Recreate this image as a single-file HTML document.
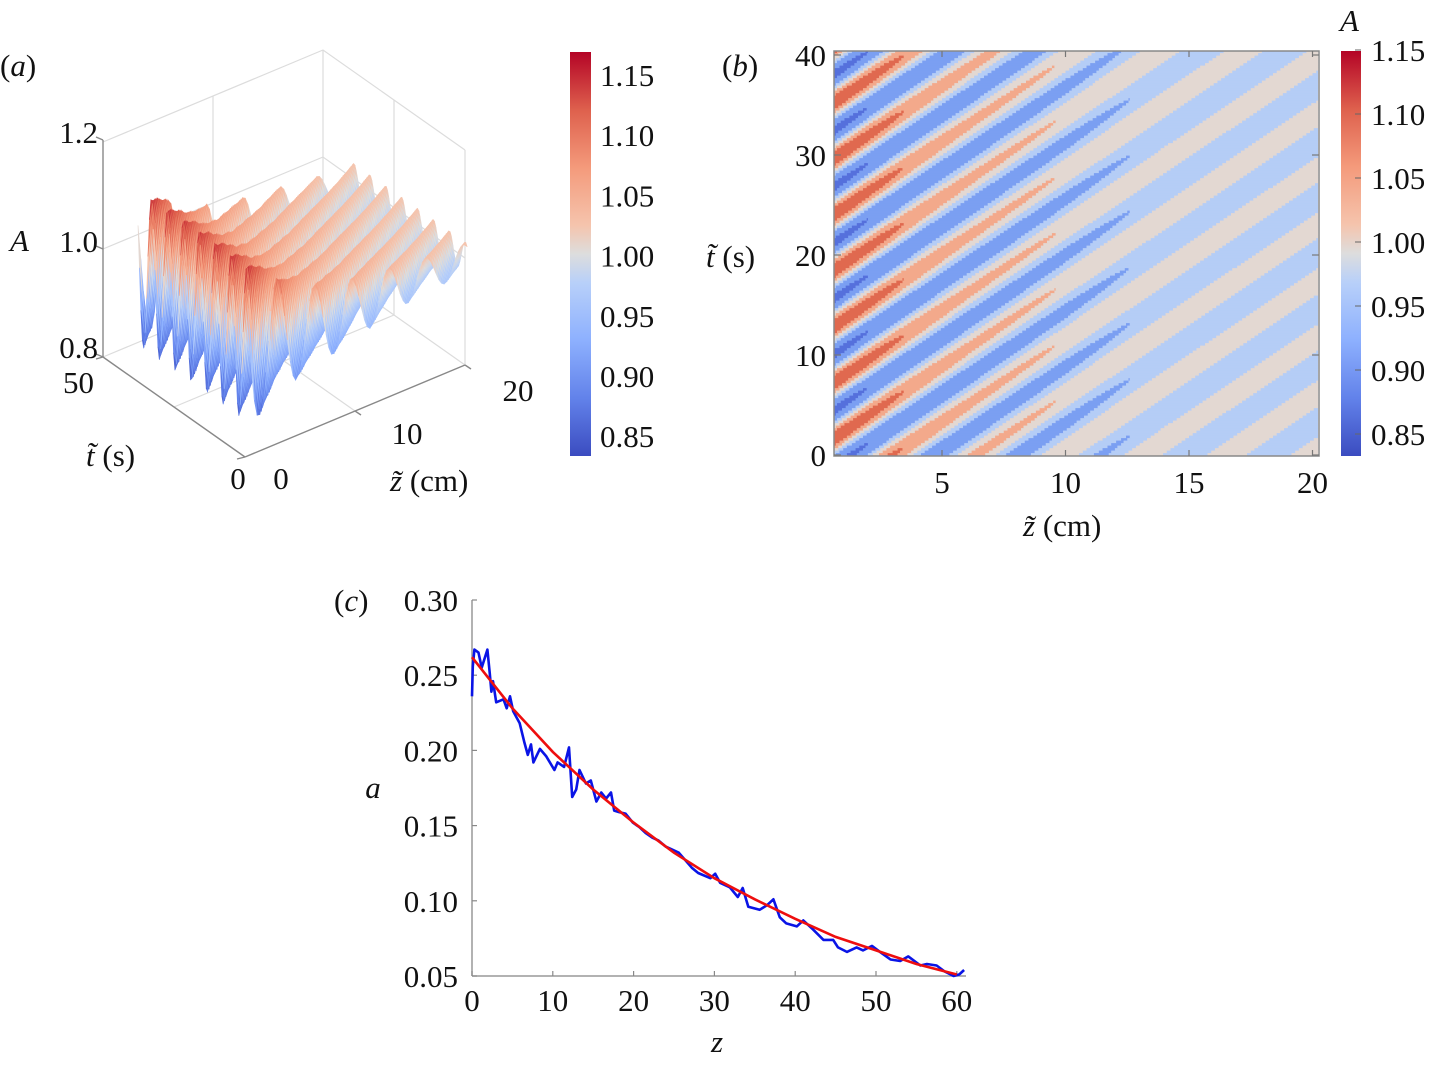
<!DOCTYPE html>
<html><head><meta charset="utf-8">
<style>
html,body{margin:0;padding:0;background:#fff;}
body{width:1429px;height:1065px;position:relative;overflow:hidden;font-family:"Liberation Serif",serif;}
svg{position:absolute;left:0;top:0;}
text{font-family:"Liberation Serif",serif;font-size:31px;fill:#111;}
.it{font-style:italic;}
</style></head>
<body>
<svg id="fig" width="1429" height="1065" viewBox="0 0 1429 1065" xmlns="http://www.w3.org/2000/svg">
<defs>
<linearGradient id="cbgrad" x1="0" y1="1" x2="0" y2="0">
<stop offset="0" stop-color="#3b4cc0"/><stop offset="0.143" stop-color="#6282ea"/><stop offset="0.286" stop-color="#8db0fe"/><stop offset="0.429" stop-color="#b8d0f9"/><stop offset="0.5" stop-color="#dddddd"/><stop offset="0.571" stop-color="#f5c4ad"/><stop offset="0.714" stop-color="#f49a7b"/><stop offset="0.857" stop-color="#de604d"/><stop offset="1" stop-color="#b40426"/>
</linearGradient>
<clipPath id="clipB"><rect x="834" y="51" width="485" height="405"/></clipPath>
</defs>

<g id="panelA">
<text x="0" y="76">(<tspan class="it">a</tspan>)</text>
<g id="boxA" stroke="#dcdcdc" stroke-width="1.2" fill="none">
<polyline points="103,142 323,50 465,150"/>
<polyline points="103,357 323,265 465,365"/>
<line x1="323" y1="50" x2="323" y2="265"/>
<line x1="465" y1="150" x2="465" y2="365"/>
<polyline points="103,249 323,157 465,258"/>
<line x1="213" y1="96" x2="213" y2="311"/>
<line x1="394" y1="100" x2="394" y2="315"/>
<line x1="355" y1="411" x2="213" y2="311"/>
<line x1="174" y1="407" x2="394" y2="315"/>
</g>
<g id="surfA"></g>
<g stroke="#888" stroke-width="1.4" fill="none">
<line x1="103" y1="140" x2="103" y2="357"/>
<line x1="103" y1="357" x2="245" y2="457"/>
<line x1="245" y1="457" x2="465" y2="365"/>
<line x1="103" y1="140" x2="96" y2="137"/><line x1="103" y1="249" x2="96" y2="246"/><line x1="103" y1="357" x2="96" y2="354"/>
<line x1="245" y1="457" x2="237" y2="459"/><line x1="103" y1="357" x2="96" y2="359"/>
<line x1="355" y1="411" x2="361" y2="415"/><line x1="465" y1="365" x2="471" y2="369"/>
</g>
<text x="98" y="143" text-anchor="end">1.2</text>
<text x="98" y="252" text-anchor="end">1.0</text>
<text x="98" y="358" text-anchor="end">0.8</text>
<text x="10" y="251" class="it">A</text>
<text x="94" y="393" text-anchor="end">50</text>
<text x="238" y="489" text-anchor="middle">0</text>
<text x="86" y="466"><tspan class="it">t̃</tspan> (s)</text>
<text x="281" y="489" text-anchor="middle">0</text>
<text x="407" y="444" text-anchor="middle">10</text>
<text x="518" y="401" text-anchor="middle">20</text>
<text x="390" y="491"><tspan class="it">z̃</tspan> (cm)</text>
</g>

<g>
<rect x="570" y="52" width="21" height="404" fill="url(#cbgrad)"/>
<g id="cbATicks"></g>
</g>

<g id="panelB">
<text x="722" y="76">(<tspan class="it">b</tspan>)</text>
<g id="heatB" clip-path="url(#clipB)"></g>
<rect x="834" y="51" width="485" height="405" fill="none" stroke="#888" stroke-width="1.5"/>
<g id="axesB"></g>
<text x="706" y="267"><tspan class="it">t̃</tspan> (s)</text>
<text x="1023" y="536"><tspan class="it">z̃</tspan> (cm)</text>
</g>

<g>
<rect x="1341" y="51" width="20" height="405" fill="url(#cbgrad)"/>
<text x="1340" y="31" class="it">A</text>
<g id="cbBTicks"></g>
</g>

<g id="panelC">
<text x="334" y="611">(<tspan class="it">c</tspan>)</text>
<g id="axesC"></g>
<path id="blueLine" fill="none" stroke="#0a14e6" stroke-width="2.6" stroke-linejoin="round"/>
<path id="redLine" fill="none" stroke="#ee0e0e" stroke-width="2.6"/>
<text x="373" y="798" class="it" text-anchor="middle">a</text>
<text x="717" y="1052" class="it" text-anchor="middle">z</text>
</g>
</svg>

<script>
const fieldZ = [0.6, 2, 4, 6, 8, 10, 12, 14, 16, 18, 20.2];
const fieldMean = [1.0, 1.0, 0.995, 0.99, 0.99, 0.99, 0.995, 0.997, 0.997, 0.997, 0.997];
const fieldAmp = [0.145, 0.125, 0.095, 0.078, 0.068, 0.058, 0.048, 0.04, 0.034, 0.03, 0.028];
const wavePeriod = [5.6];
const waveSlope = [1.66];
const wavePhase0 = [1.7];
const colorLevels = [0.875, 0.95, 1.00, 1.05, 1.10, 1.15];
const levelColors = ["#5570dc", "#7b9ff2", "#b5cdf6", "#e3d8d2", "#f3a98b", "#e0694f", "#b40426"];
const cbTicksA = [0.85, 0.90, 0.95, 1.00, 1.05, 1.10, 1.15];
const cbTicksB = [0.85, 0.90, 0.95, 1.00, 1.05, 1.10, 1.15];
const bTicksZ = [5, 10, 15, 20];
const bTicksT = [0, 10, 20, 30, 40];

const cZ = [0,0.1,0.3,0.8,1.2,1.9,2.2,2.4,2.6,3.0,3.9,4.3,4.7,5.1,5.9,6.5,6.9,7.3,7.6,8.4,9.2,10.2,10.6,11.4,12.0,12.4,12.9,13.3,14.1,14.7,15.4,16.0,16.6,17.2,17.6,18.2,19.0,19.9,20.7,21.5,22.3,23.1,24.0,24.8,25.6,26.4,27.2,28.0,29.5,30.1,30.7,31.9,32.9,33.5,34.2,35.6,36.5,37.3,38.1,38.9,40.2,41.0,42.2,43.5,44.7,45.3,46.4,47.6,48.4,49.5,50.5,51.8,53.0,54.0,55.5,56.3,57.5,58.5,59.6,60.3,60.9];
const cA = [0.236,0.256,0.267,0.265,0.255,0.267,0.251,0.239,0.246,0.232,0.234,0.228,0.236,0.226,0.218,0.205,0.197,0.204,0.192,0.201,0.196,0.187,0.192,0.189,0.202,0.169,0.174,0.187,0.178,0.180,0.166,0.172,0.168,0.172,0.160,0.159,0.158,0.152,0.149,0.145,0.142,0.140,0.136,0.134,0.132,0.127,0.122,0.1185,0.115,0.118,0.112,0.109,0.1025,0.1085,0.096,0.094,0.097,0.101,0.089,0.085,0.083,0.087,0.081,0.074,0.074,0.069,0.066,0.069,0.067,0.070,0.066,0.061,0.060,0.063,0.057,0.058,0.057,0.053,0.050,0.051,0.054];
const fitZ = [0,5,10,15,20,25,30,35,40,45,50,55,60];
const fitA = [0.262,0.228,0.199,0.174,0.152,0.132,0.115,0.101,0.088,0.076,0.067,0.058,0.051];
const cTicksX = [0,10,20,30,40,50,60];
const cTicksY = [0.05,0.10,0.15,0.20,0.25,0.30];

const NS = "http://www.w3.org/2000/svg";
function mk(tag, attrs, parent){const e=document.createElementNS(NS,tag);for(const k in attrs)e.setAttribute(k,attrs[k]);parent.appendChild(e);return e;}
function interp(xs, ys, x){if(x<=xs[0])return ys[0];for(let i=1;i<xs.length;i++){if(x<=xs[i]){const f=(x-xs[i-1])/(xs[i]-xs[i-1]);return ys[i-1]+f*(ys[i]-ys[i-1]);}}return ys[ys.length-1];}
function field(z,t){const m=interp(fieldZ,fieldMean,z),a=interp(fieldZ,fieldAmp,z);const ph=(t-wavePhase0[0]-waveSlope[0]*(z-fieldZ[0]))/wavePeriod[0];return m+a*Math.cos(2*Math.PI*ph);}
const cw=[[0,59,76,192],[0.143,98,130,234],[0.286,141,176,254],[0.429,184,208,249],[0.5,221,221,221],[0.571,245,196,173],[0.714,244,154,123],[0.857,222,96,77],[1,180,4,38]];
function coolwarm(u){u=Math.max(0,Math.min(1,u));for(let i=1;i<cw.length;i++){if(u<=cw[i][0]){const f=(u-cw[i-1][0])/(cw[i][0]-cw[i-1][0]);const c=[1,2,3].map(k=>Math.round(cw[i-1][k]+f*(cw[i][k]-cw[i-1][k])));return `rgb(${c[0]},${c[1]},${c[2]})`;}}return "rgb(180,4,38)";}

const surf=document.getElementById('surfA');
function proj(z,t,A){return [245+11*z-2.84*t, 457-4.6*z-2*t-(A-0.8)*537];}
const quads=[];
const dz=0.25, dt=0.5, z0=fieldZ[0], z1=fieldZ[fieldZ.length-1], tMax=40;
for(let t=0;t<tMax-1e-9;t+=dt){for(let z=z0;z<z1-1e-9;z+=dz){
  const za=z, zb=Math.min(z+dz,z1), ta=t, tb=t+dt;
  const pts=[[za,ta],[zb,ta],[zb,tb],[za,tb]].map(p=>proj(p[0],p[1],field(p[0],p[1])));
  const Am=field((za+zb)/2,(ta+tb)/2);
  quads.push({d:457-4.6*(za+zb)/2-2*(ta+tb)/2,pts,Am});
}}
quads.sort((a,b)=>a.d-b.d);
for(const q of quads){
  const col=coolwarm((q.Am-0.833)/(1.169-0.833));
  const p=mk('polygon',{points:q.pts.map(p=>p[0].toFixed(1)+','+p[1].toFixed(1)).join(' '),fill:col,stroke:col,'stroke-width':'0.6'},surf);
  
  
}

const cbA=document.getElementById('cbATicks');
cbTicksA.forEach(v=>{const y=75+(1.15-v)/0.05*60.2;
  const tx=mk('text',{x:600,y:(y+11).toFixed(1)},cbA);tx.textContent=v.toFixed(2);
  
  
});

const heat=document.getElementById('heatB');
const bx=z=>942+(z-5)*24.7, by=t=>455-t*10;
function levelIdx(A){let i=0;while(i<colorLevels.length&&A>=colorLevels[i])i++;return i;}
const hz=0.05, ht=0.25;
for(let t=0;t<40.5;t+=ht){
  let runStart=z0, runIdx=levelIdx(field(z0,t+ht/2));
  for(let z=z0+hz;z<=z1+hz;z+=hz){
    const idx=z<=z1?levelIdx(field(z,t+ht/2)):-1;
    if(idx!==runIdx){
      const r=mk('rect',{x:bx(runStart).toFixed(2),y:(by(t+ht)).toFixed(2),width:(bx(z)-bx(runStart)+0.6).toFixed(2),height:(ht*10+0.6).toFixed(2),fill:levelColors[runIdx]},heat);
      
      
      runStart=z;runIdx=idx;
    }
  }
}
const axB=document.getElementById('axesB');
bTicksZ.forEach(v=>{const x=bx(v);
  mk('line',{x1:x,y1:456,x2:x,y2:450,stroke:'#777','stroke-width':1.2},axB);
  mk('line',{x1:x,y1:51,x2:x,y2:57,stroke:'#777','stroke-width':1.2},axB);
  const tx=mk('text',{x:x,y:493,'text-anchor':'middle'},axB);tx.textContent=v;
  
  
});
bTicksT.forEach(v=>{const y=by(v);
  mk('line',{x1:834,y1:y,x2:841,y2:y,stroke:'#777','stroke-width':1.2},axB);
  mk('line',{x1:1319,y1:y,x2:1312,y2:y,stroke:'#777','stroke-width':1.2},axB);
  const tx=mk('text',{x:826,y:y+11,'text-anchor':'end'},axB);tx.textContent=v;
  
  
});
const cbB=document.getElementById('cbBTicks');
cbTicksB.forEach(v=>{const y=50+(1.15-v)/0.05*64;
  mk('line',{x1:1355,y1:y,x2:1361,y2:y,stroke:'#666','stroke-width':1},cbB);
  const tx=mk('text',{x:1371,y:(y+11).toFixed(1)},cbB);tx.textContent=v.toFixed(2);
  
  
});

const cx=z=>472+z*8.08, cy=a=>976-(a-0.05)*1504;
const axC=document.getElementById('axesC');
mk('line',{x1:472,y1:600,x2:472,y2:976,stroke:'#999','stroke-width':1.5},axC);
mk('line',{x1:472,y1:976,x2:966,y2:976,stroke:'#999','stroke-width':1.5},axC);
cTicksX.forEach(v=>{const x=cx(v);
  mk('line',{x1:x,y1:976,x2:x,y2:971,stroke:'#888','stroke-width':1.2},axC);
  const tx=mk('text',{x:x,y:1011,'text-anchor':'middle'},axC);tx.textContent=v;
  
  
});
cTicksY.forEach(v=>{const y=cy(v);
  mk('line',{x1:472,y1:y,x2:477,y2:y,stroke:'#888','stroke-width':1.2},axC);
  const tx=mk('text',{x:458,y:y+11,'text-anchor':'end'},axC);tx.textContent=v.toFixed(2);
  
  
});
document.getElementById('blueLine').setAttribute('d',cZ.map((z,i)=>(i?'L':'M')+cx(z).toFixed(1)+','+cy(cA[i]).toFixed(1)).join(''));
document.getElementById('redLine').setAttribute('d',fitZ.map((z,i)=>(i?'L':'M')+cx(z).toFixed(1)+','+cy(fitA[i]).toFixed(1)).join(''));
</script>
</body></html>
